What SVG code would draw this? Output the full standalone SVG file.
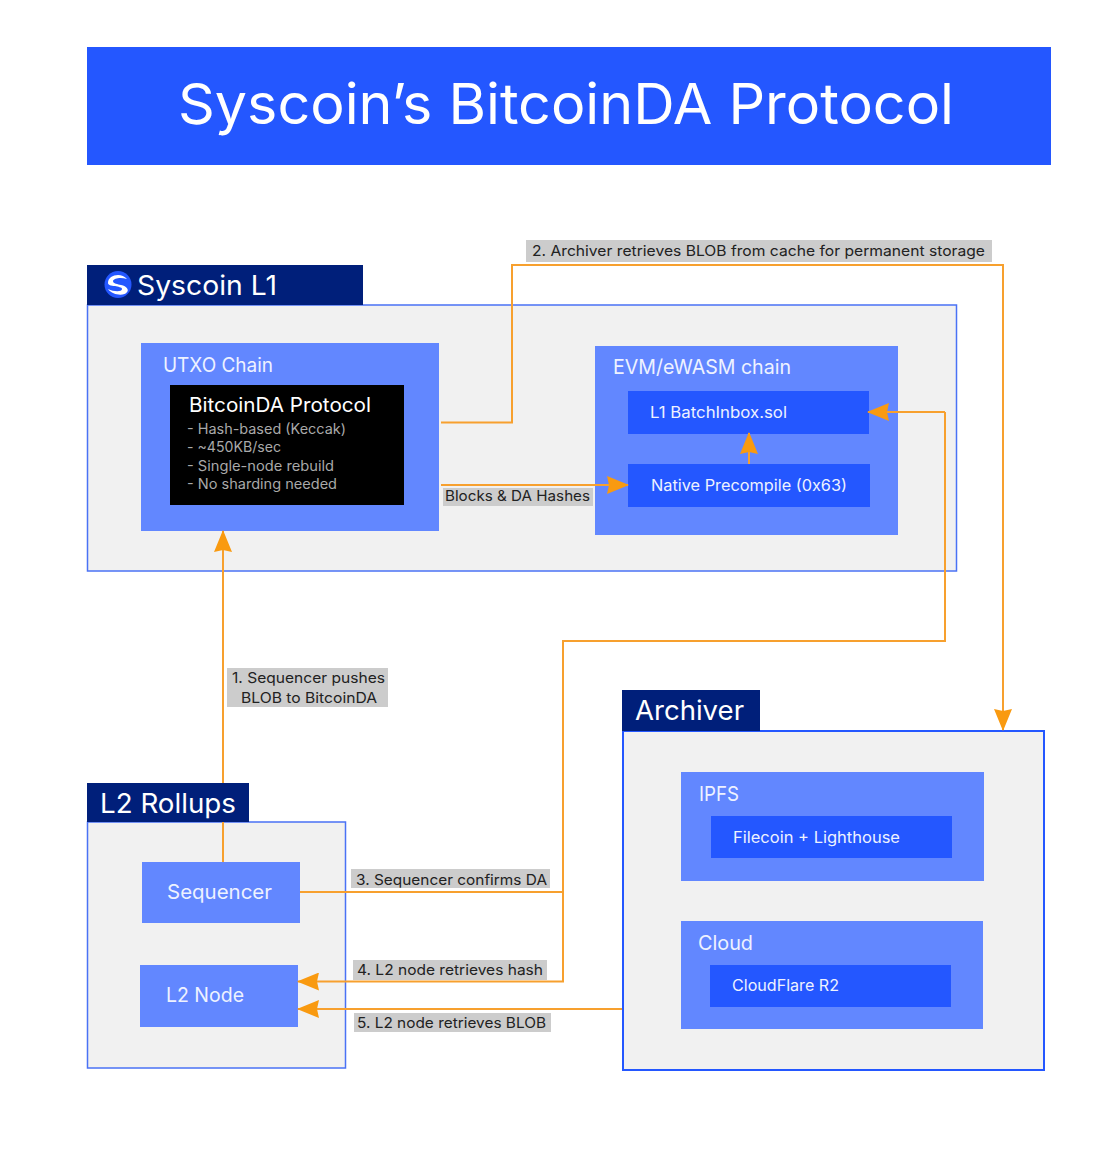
<svg xmlns="http://www.w3.org/2000/svg" width="1120" height="1150" viewBox="0 0 1120 1150">
<style>
text{font-family:"Inter","Noto Sans","Liberation Sans",sans-serif;fill:#fff}
.container{fill:#f1f1f1;stroke:#4a72f5;stroke-width:1.5}
.tab{fill:#001f7a}
.mid{fill:#6287ff}
.inner{fill:#2457ff}
.t28{font-size:27px}
.t20{font-size:20px;fill:#eef2ff}
.t16{font-size:15.5px;fill:#eef2ff}
.sub{font-size:14px;fill:#a9a9a9}
.lb{fill:#cccccc}
.lt{font-size:14.5px;fill:#222}
.conn{fill:none;stroke:#f7a02e;stroke-width:2}
</style>
<defs>
<marker id="arr" viewBox="0 0 22 18" refX="21" refY="9" markerUnits="userSpaceOnUse" markerWidth="22" markerHeight="18" orient="auto"><path d="M0 0L22 9L0 18L2 9Z" fill="#f99a10"/></marker>
</defs>
<rect width="1120" height="1150" fill="#fff"/>
<g id="title"><rect x="87" y="47" width="964" height="118" fill="#2457ff"/><text x="178" y="124" font-size="56" textLength="776" lengthAdjust="spacingAndGlyphs">Syscoin’s BitcoinDA Protocol</text></g>
<g id="syscoin-box"><rect class="container" x="87.5" y="305" width="869" height="266"/></g>
<g id="archiver-box"><rect class="container" style="stroke-width:2;stroke:#2457ff" x="623" y="731" width="421" height="339"/></g>
<g id="l2-box"><rect class="container" x="87.5" y="822" width="258" height="246"/></g>
<g id="utxo"><rect class="mid" x="141" y="343" width="298" height="188"/><text class="t20" x="163" y="372" textLength="110" lengthAdjust="spacingAndGlyphs">UTXO Chain</text></g>
<g id="bitcoinda"><rect x="170" y="385" width="234" height="120" fill="#000"/><text x="189" y="412" font-size="20" textLength="182" lengthAdjust="spacingAndGlyphs">BitcoinDA Protocol</text>
<text class="sub" x="187" y="434" textLength="159" lengthAdjust="spacingAndGlyphs">- Hash-based (Keccak)</text>
<text class="sub" x="187" y="452" textLength="94" lengthAdjust="spacingAndGlyphs">- ~450KB/sec</text>
<text class="sub" x="187" y="471" textLength="147" lengthAdjust="spacingAndGlyphs">- Single-node rebuild</text>
<text class="sub" x="187" y="489" textLength="150" lengthAdjust="spacingAndGlyphs">- No sharding needed</text></g>
<g id="evm"><rect class="mid" x="595" y="346" width="303" height="189"/><text class="t20" x="613" y="374" textLength="178" lengthAdjust="spacingAndGlyphs">EVM/eWASM chain</text></g>
<g id="batchinbox"><rect class="inner" x="628" y="391" width="241" height="43"/><text class="t16" x="650" y="418" textLength="137" lengthAdjust="spacingAndGlyphs">L1 BatchInbox.sol</text></g>
<g id="precompile"><rect class="inner" x="628" y="464" width="242" height="43"/><text class="t16" x="651" y="491" textLength="196" lengthAdjust="spacingAndGlyphs">Native Precompile (0x63)</text></g>
<g id="ipfs"><rect class="mid" x="681" y="772" width="303" height="109"/><text class="t20" x="699" y="801" textLength="40" lengthAdjust="spacingAndGlyphs">IPFS</text></g>
<g id="filecoin"><rect class="inner" x="711" y="816" width="241" height="42"/><text class="t16" x="733" y="843" textLength="167" lengthAdjust="spacingAndGlyphs">Filecoin + Lighthouse</text></g>
<g id="cloud"><rect class="mid" x="681" y="921" width="302" height="108"/><text class="t20" x="698" y="950" textLength="55" lengthAdjust="spacingAndGlyphs">Cloud</text></g>
<g id="r2"><rect class="inner" x="710" y="965" width="241" height="42"/><text class="t16" x="732" y="991" textLength="107" lengthAdjust="spacingAndGlyphs">CloudFlare R2</text></g>
<g id="sequencer"><rect class="mid" x="142" y="862" width="158" height="61"/><text class="t20" x="167" y="899" textLength="105" lengthAdjust="spacingAndGlyphs">Sequencer</text></g>
<g id="l2node"><rect class="mid" x="140" y="965" width="158" height="62"/><text class="t20" x="166" y="1002" textLength="78" lengthAdjust="spacingAndGlyphs">L2 Node</text></g>
<g id="labels">
<rect class="lb" x="526" y="240" width="466" height="22"/><text class="lt" x="532" y="256" textLength="453" lengthAdjust="spacingAndGlyphs">2. Archiver retrieves BLOB from cache for permanent storage</text>
<rect class="lb" x="443" y="488" width="150" height="18"/><text class="lt" x="445" y="501" textLength="145" lengthAdjust="spacingAndGlyphs">Blocks &amp; DA Hashes</text>
<rect class="lb" x="227" y="668" width="161" height="39"/><text class="lt" x="232" y="683" textLength="153" lengthAdjust="spacingAndGlyphs">1. Sequencer pushes</text><text class="lt" x="241" y="703" textLength="136" lengthAdjust="spacingAndGlyphs">BLOB to BitcoinDA</text>
<rect class="lb" x="351" y="869" width="199" height="19"/><text class="lt" x="356" y="885" textLength="191" lengthAdjust="spacingAndGlyphs">3. Sequencer confirms DA</text>
<rect class="lb" x="353" y="960" width="194" height="20"/><text class="lt" x="357" y="975" textLength="186" lengthAdjust="spacingAndGlyphs">4. L2 node retrieves hash</text>
<rect class="lb" x="354" y="1013" width="197" height="19"/><text class="lt" x="357" y="1028" textLength="189" lengthAdjust="spacingAndGlyphs">5. L2 node retrieves BLOB</text>
</g>
<g id="connectors" class="conn">
<path d="M223 862V531" marker-end="url(#arr)"/>
<path d="M441 422.500H512V265H1003V730" marker-end="url(#arr)"/>
<path d="M441 485H628" marker-end="url(#arr)"/>
<path d="M749 464V433" marker-end="url(#arr)"/>
<path d="M300 892H563"/>
<path d="M945 412V641H563V981.500H298" marker-end="url(#arr)"/>
<path d="M945 412H868" marker-end="url(#arr)"/>
<path d="M622 1009H298" marker-end="url(#arr)"/>
</g>
<g id="syscoin-tab"><rect class="tab" x="87" y="265" width="276" height="40"/>
<circle cx="118" cy="284.500" r="13.500" fill="#2457ff"/><path d="M108 283C108 275 121 272 127 279C121 277 114 278 113 281C113 284 118 284 121 285C127 286 129 290 127 292C125 296 113 296 108 289C114 292 122 292 122 289C122 287 118 287 115 286C111 286 108 285 108 283Z" fill="#fff"/>
<text class="t28" x="137" y="295" textLength="140" lengthAdjust="spacingAndGlyphs">Syscoin L1</text></g>
<g id="archiver-tab"><rect class="tab" x="622" y="690" width="138" height="41"/><text class="t28" x="635" y="720" textLength="109" lengthAdjust="spacingAndGlyphs">Archiver</text></g>
<g id="l2-tab"><rect class="tab" x="87" y="783" width="162" height="39"/><text class="t28" x="100" y="813" textLength="136" lengthAdjust="spacingAndGlyphs">L2 Rollups</text></g>
</svg>
